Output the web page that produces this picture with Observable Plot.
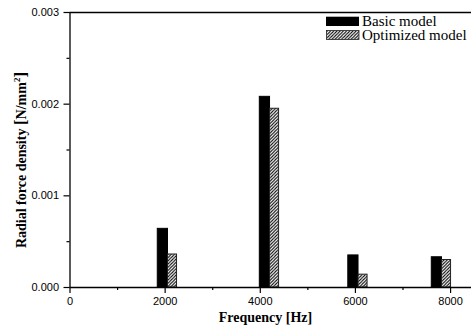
<!DOCTYPE html>
<html><head><meta charset="utf-8">
<script src="https://cdn.jsdelivr.net/npm/d3@7"></script>
<script src="https://cdn.jsdelivr.net/npm/@observablehq/plot@0.6"></script>
<style>body{margin:0;background:#fff} #chart{width:471px;height:326px}</style>
</head><body><div id="chart"></div>
<script>
const frequencies = [2060, 4205, 6065, 7820];
const basicModel = [0.00064, 0.00208, 0.00035, 0.00033];
const optimizedModel = [0.00036, 0.00195, 0.00014, 0.00030];
const seriesNames = ["Basic model", "Optimized model"];
const xTicks = [0, 2000, 4000, 6000, 8000];
const xMinorTicks = [1000, 3000, 5000, 7000];
const yTicks = [0, 0.001, 0.002, 0.003];
const yMinorTicks = [0.0005, 0.0015, 0.0025];
const xTitle = "Frequency [Hz]";
const yTitle = "Radial force density ";

const basicRows = frequencies.map((f, i) => ({f, v: basicModel[i]}));
const optRows = frequencies.map((f, i) => ({f, v: optimizedModel[i]}));
const wBasic = 215, wOpt = 190;

const svg = Plot.plot({
  width: 471, height: 326,
  marginLeft: 69.5, marginRight: 0, marginTop: 12, marginBottom: 39,
  style: {fontFamily: "'Liberation Sans', Arial, sans-serif", fontSize: "11px", color: "black", background: "white"},
  x: {domain: [0, 8440]},
  y: {domain: [0, 0.003]},
  marks: [
    Plot.rect(basicRows, {x1: d => d.f - wBasic, x2: d => d.f, y1: 0, y2: "v", fill: "black", stroke: "black", strokeWidth: 1}),
    Plot.rect(optRows, {x1: d => d.f, x2: d => d.f + wOpt, y1: 0, y2: "v", fill: "url(#hatch)", stroke: "#222", strokeWidth: 1}),
    Plot.axisY(yTicks, {tickSize: 6, tickPadding: 5, tickFormat: d3.format(".3f"), label: null, strokeWidth: 1.2}),
    Plot.axisY(yMinorTicks, {tickSize: 3, tickFormat: () => "", label: null, strokeWidth: 1.2}),
    Plot.axisX(xTicks, {tickSize: 6, tickPadding: 4, tickFormat: d => String(d), label: null, strokeWidth: 1.2}),
    Plot.axisX(xMinorTicks, {tickSize: 3, tickFormat: () => "", label: null, strokeWidth: 1.2}),
    Plot.ruleY([0], {strokeWidth: 1.3}),
    Plot.ruleY([0.003], {strokeWidth: 1.3}),
    Plot.ruleX([0], {strokeWidth: 1.3})
  ]
});

const s = d3.select(svg);
const pat = s.insert("defs", ":first-child").append("pattern")
  .attr("id", "hatch").attr("patternUnits", "userSpaceOnUse")
  .attr("width", 3.2).attr("height", 3.2);
pat.append("rect").attr("width", 3.2).attr("height", 3.2).attr("fill", "white");
pat.append("path").attr("d", "M-0.8,0.8 L0.8,-0.8 M0,3.2 L3.2,0 M2.4,4 L4,2.4")
  .attr("stroke", "black").attr("stroke-width", 1);

const serif = "'Liberation Serif', 'Times New Roman', serif";
// x title
s.append("text").attr("x", 265.5).attr("y", 322).attr("text-anchor", "middle")
  .attr("font-family", serif).attr("font-weight", "bold").attr("font-size", 14).text(xTitle);
// y title
const yt = s.append("text").attr("transform", "translate(25.5,160) rotate(-90)").attr("text-anchor", "middle")
  .attr("font-family", serif).attr("font-weight", "bold").attr("font-size", 14);
yt.append("tspan").text(yTitle);
yt.append("tspan").attr("font-size", 17).text("[");
yt.append("tspan").text("N/mm");
yt.append("tspan").attr("font-size", 9).attr("dy", -6).text("2");
yt.append("tspan").attr("font-size", 17).attr("dy", 6).text("]");

// legend
const lg = s.append("g").attr("font-family", serif).attr("font-size", 15).attr("text-anchor", "start");
lg.append("rect").attr("x", 326).attr("y", 16.7).attr("width", 33).attr("height", 9.3).attr("fill", "black");
lg.append("text").attr("x", 362).attr("y", 26.2).text(seriesNames[0]);
lg.append("rect").attr("x", 326.5).attr("y", 30.5).attr("width", 32.5).attr("height", 9).attr("fill", "url(#hatch)").attr("stroke", "#222").attr("stroke-width", 0.8);
lg.append("text").attr("x", 362).attr("y", 39.6).text(seriesNames[1]);

document.getElementById("chart").appendChild(svg);
</script>
</body></html>
